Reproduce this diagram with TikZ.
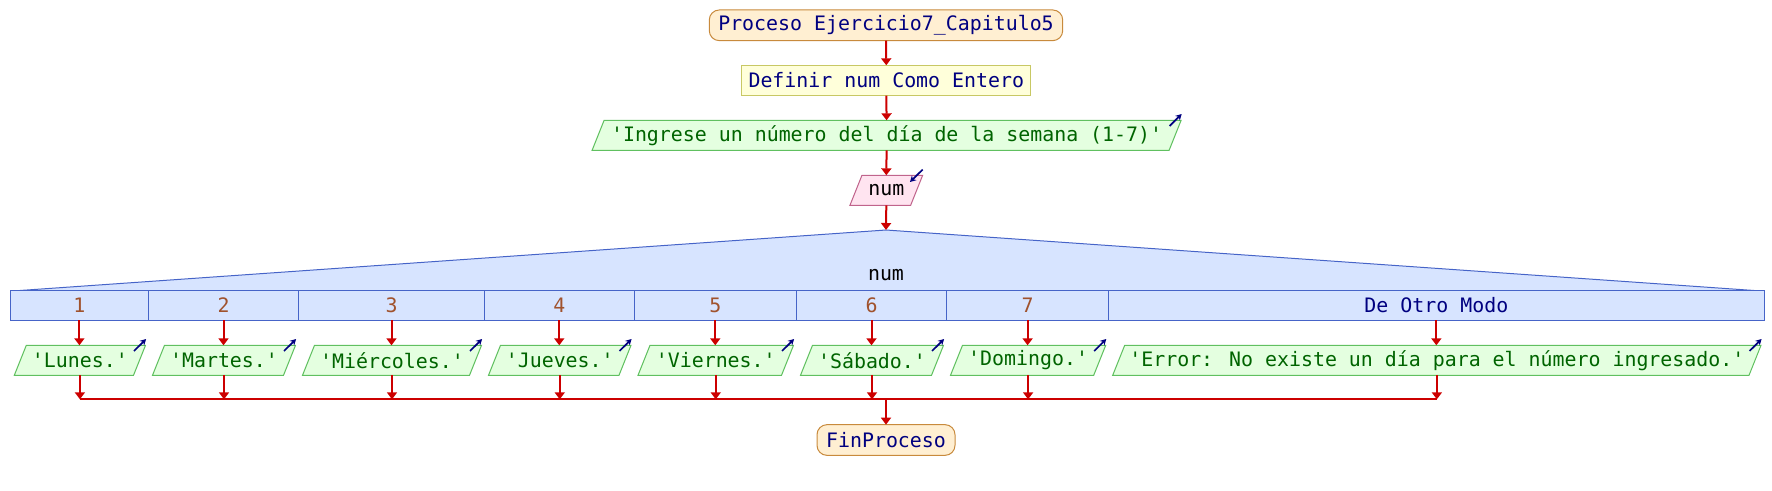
\documentclass[tikz,border=0pt]{standalone}
\usepackage{fontspec}
\newfontfamily\monofont{DejaVu Sans Mono}
\usetikzlibrary{arrows.meta,backgrounds}
\definecolor{procfill}{HTML}{FFEFD2}
\definecolor{procdraw}{HTML}{C88A3C}
\definecolor{deffill}{HTML}{FFFFDA}
\definecolor{defdraw}{HTML}{C8C864}
\definecolor{outfill}{HTML}{E4FFE0}
\definecolor{outdraw}{HTML}{60C060}
\definecolor{infill}{HTML}{FFE4F0}
\definecolor{indraw}{HTML}{C0648C}
\definecolor{swfill}{HTML}{D7E4FF}
\definecolor{swdraw}{HTML}{4664C8}
\definecolor{arrowred}{HTML}{CC0000}
\definecolor{navytext}{HTML}{000080}
\definecolor{greentext}{HTML}{006400}
\definecolor{browntext}{HTML}{A0522D}
\begin{document}
\begin{tikzpicture}[x=1pt,y=-1pt,
  every node/.style={font=\monofont\fontsize{19.9}{24}\selectfont, inner sep=0pt, outer sep=0pt},
  flow/.style={draw=arrowred, line width=2pt, -{Triangle[width=10pt,length=7pt]}},
  joinline/.style={draw=arrowred, line width=2pt},
  terminal/.style={draw=procdraw, fill=procfill, line width=1pt, rounded corners=10pt, text=navytext, minimum height=30.7pt},
  defbox/.style={draw=defdraw, fill=deffill, line width=1pt, text=navytext, minimum height=30.4pt},
  outnode/.style={text=greentext, minimum height=30pt},
  innode/.style={text=black, minimum height=30pt},
  outshape/.style={draw=outdraw, fill=outfill, line width=1pt},
  inshape/.style={draw=indraw, fill=infill, line width=1pt},
  cell/.style={draw=swdraw, fill=swfill, line width=1pt, minimum height=29.6pt, text=browntext},
  iconarrow/.style={draw=navytext, line width=1.7pt, -{Stealth[length=6pt,width=6.5pt]}},
]
\useasboundingbox (0,0) rectangle (1772,490);

% top chain
\node[terminal, minimum width=353.4pt] (proc) at (886,25.3) {Proceso Ejercicio7\_Capitulo5};
\node[defbox, minimum width=288.7pt] (def) at (886.3,80.5) {Definir num Como Entero};
\node[outnode, minimum width=577pt] (ing) at (886.6,135.3) {'Ingrese un número del día de la semana (1-7)'};
\node[innode, minimum width=60.7pt] (numin) at (886.3,190.3) {num};
\coordinate (apex) at (886,230);

% switch
\node[cell, minimum width=138.2pt] (c1) at (79.4,305.5) {1};
\node[cell, minimum width=150pt] (c2) at (223.5,305.5) {2};
\node[cell, minimum width=186pt] (c3) at (391.5,305.5) {3};
\node[cell, minimum width=149.5pt] (c4) at (559.25,305.5) {4};
\node[cell, minimum width=162.5pt] (c5) at (715.25,305.5) {5};
\node[cell, minimum width=150pt] (c6) at (871.5,305.5) {6};
\node[cell, minimum width=162.2pt] (c7) at (1027.6,305.5) {7};
\node[cell, minimum width=655.3pt, text=navytext] (c8) at (1436.35,305.5) {De Otro Modo};
\node[text=black] (swlabel) at (886,275) {num};

% outputs
\node[outnode, minimum width=119.2pt] (o1) at (79.9,360.3) {'Lunes.'};
\node[outnode, minimum width=131pt] (o2) at (224,360.3) {'Martes.'};
\node[outnode, minimum width=167pt] (o3) at (392,360.3) {'Miércoles.'};
\node[outnode, minimum width=130.5pt] (o4) at (559.75,360.3) {'Jueves.'};
\node[outnode, minimum width=143.5pt] (o5) at (715.75,360.3) {'Viernes.'};
\node[outnode, minimum width=131pt] (o6) at (872,360.3) {'Sábado.'};
\node[outnode, minimum width=143.2pt] (o7) at (1028.1,360.3) {'Domingo.'};
\node[outnode, minimum width=636.3pt] (o8) at (1436.85,360.3) {'Error: No existe un día para el número ingresado.'};

\node[terminal, minimum width=138pt] (fin) at (886,440) {FinProceso};

% background shapes
\begin{scope}[on background layer]
  \foreach \n in {ing,o1,o2,o3,o4,o5,o6,o7,o8}{
    \draw[outshape] ([xshift=6pt]\n.north west) -- ([xshift=6pt]\n.north east)
      -- ([xshift=-6pt]\n.south east) -- ([xshift=-6pt]\n.south west) -- cycle;
  }
  \draw[inshape] ([xshift=6pt]numin.north west) -- ([xshift=6pt]numin.north east)
      -- ([xshift=-6pt]numin.south east) -- ([xshift=-6pt]numin.south west) -- cycle;
  \fill[swfill] (17,291) -- (apex) -- (1757,291) -- cycle;
  \draw[swdraw, line width=1pt] (17,290.7) -- (apex) -- (1757,290.7);
\end{scope}

% icons
\foreach \n in {ing,o1,o2,o3,o4,o5,o6,o7,o8}{
  \draw[iconarrow] ([shift={(-5.5,5.7)}]\n.north east) -- ([shift={(6.6,-6.3)}]\n.north east);
}
\draw[iconarrow] ([shift={(6,-5.7)}]numin.north east) -- ([shift={(-6.7,6.7)}]numin.north east);

% connectors
\coordinate (mline) at (0,399.3);
\coordinate (mc) at (886,399.3);
\draw[flow] (proc.south) -- (def.north);
\draw[flow] (def.south) -- (ing.north);
\draw[flow] (ing.south) -- (numin.north);
\draw[flow] (numin.south) -- (apex);
\foreach \i in {1,...,8}{
  \draw[flow] (c\i.south) -- (c\i.south |- o\i.north);
  \coordinate (m\i) at (o\i.south |- mline);
  \draw[flow] (o\i.south) -- (m\i);
}
\draw[joinline] (m1) -- (m8);
\draw[flow] (mc) -- (fin.north);
\end{tikzpicture}
\end{document}
